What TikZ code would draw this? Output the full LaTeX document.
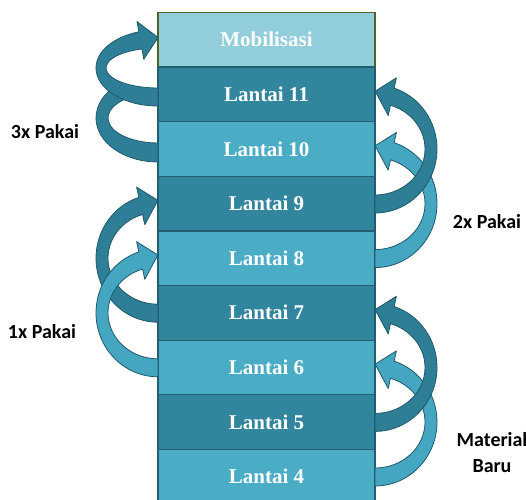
\documentclass[tikz,border=0pt]{standalone}
\usepackage{fontspec}
\setmainfont{Liberation Serif}
\newfontfamily\ketfont{Carlito}
\usetikzlibrary{calc}

\definecolor{mobfill}{HTML}{92CDDC}
\definecolor{mobline}{HTML}{4F6228}
\definecolor{lantaidark}{HTML}{31859C}
\definecolor{lantailight}{HTML}{4BACC6}
\definecolor{boxline}{HTML}{215E70}
\definecolor{arrdark}{HTML}{2E7F96}
\definecolor{arrlight}{HTML}{45A6C1}
\definecolor{arrline}{HTML}{1F5A6B}

\begin{document}
\begin{tikzpicture}[x=1pt,y=1pt,
 lantai/.style={draw=boxline,line width=1.2pt,minimum width=217pt,minimum height=54.6pt,inner sep=0pt,text=white,font=\fontsize{21}{21}\selectfont\bfseries},
 ket/.style={font=\ketfont\fontsize{20}{26}\selectfont\bfseries,align=center},
 putar/.style={draw=arrline,line width=.8pt,line join=round}]
\useasboundingbox (0,0) rectangle (526,499);
% tumpukan lantai
\node[lantai,fill=mobfill,draw=mobline,line width=1.5pt] (mob) at (266.5,459.2) {Mobilisasi};
\foreach \n [count=\k] in {11,10,...,4}{
 \ifodd\n\def\warna{lantaidark}\else\def\warna{lantailight}\fi
 \node[lantai,fill=\warna] (l\n) at (266.5,459.2-54.6*\k) {Lantai \n};
}
% panah 3x pakai
\path (158,381) coordinate (cb);
\draw[putar,fill=arrdark] (cb) ++(270:62pt and 44pt) arc[start angle=270,end angle=130,x radius=62pt,y radius=44pt]
 -- ($(cb)+(130:50pt and 25pt)$) arc[start angle=130,end angle=270,x radius=50pt,y radius=25pt] -- cycle;
\path (158,431) coordinate (ca) +(108:62pt and 38pt) coordinate (oa) +(108:52pt and 20pt) coordinate (ia);
\path ($(oa)!-.6!(ia)$) coordinate (oba) ($(ia)!-.6!(oa)$) coordinate (iba) ($(oa)!.5!(ia)+(17.7,2.9)$) coordinate (ujunga);
\draw[putar,fill=arrdark] (ca) ++(270:62pt and 38pt) arc[start angle=270,end angle=108,x radius=62pt,y radius=38pt]
 -- (oba) -- (ujunga) -- (iba) -- (ia) arc[start angle=108,end angle=270,x radius=52pt,y radius=20pt] -- cycle;
% panah lainnya
\foreach \x/\y/\s/\c in {158/240.8/-1/arrdark,158/186.2/-1/arrlight,375/295.4/1/arrlight,375/350/1/arrdark,375/77/1/arrlight,375/131.6/1/arrdark}{
 \pgfmathsetmacro\a{\s>0 ? -90 : 270}
 \pgfmathsetmacro\b{\s>0 ? 72 : 108}
 \path (\x,\y) coordinate (c) +(\b:62pt and 64pt) coordinate (o) +(\b:50pt and 46pt) coordinate (i);
 \path ($(o)!-.6!(i)$) coordinate (ob) ($(i)!-.6!(o)$) coordinate (ib) ($(o)!.5!(i)+(-17.2*\s,5.5)$) coordinate (ujung);
 \draw[putar,fill=\c] (c) ++(\a:62pt and 64pt) arc[start angle=\a,end angle=\b,x radius=62pt,y radius=64pt]
  -- (ob) -- (ujung) -- (ib) -- (i) arc[start angle=\b,end angle=\a,x radius=50pt,y radius=46pt] -- cycle;
}
% keterangan
\node[ket] (tiga) at (45,132*-1+499) {3x Pakai};
\node[ket] (dua) at (487,277) {2x Pakai};
\node[ket] (satu) at (42,167) {1x Pakai};
\node[ket] (baru) at (492,46) {Material\\Baru};
\end{tikzpicture}
\end{document}
